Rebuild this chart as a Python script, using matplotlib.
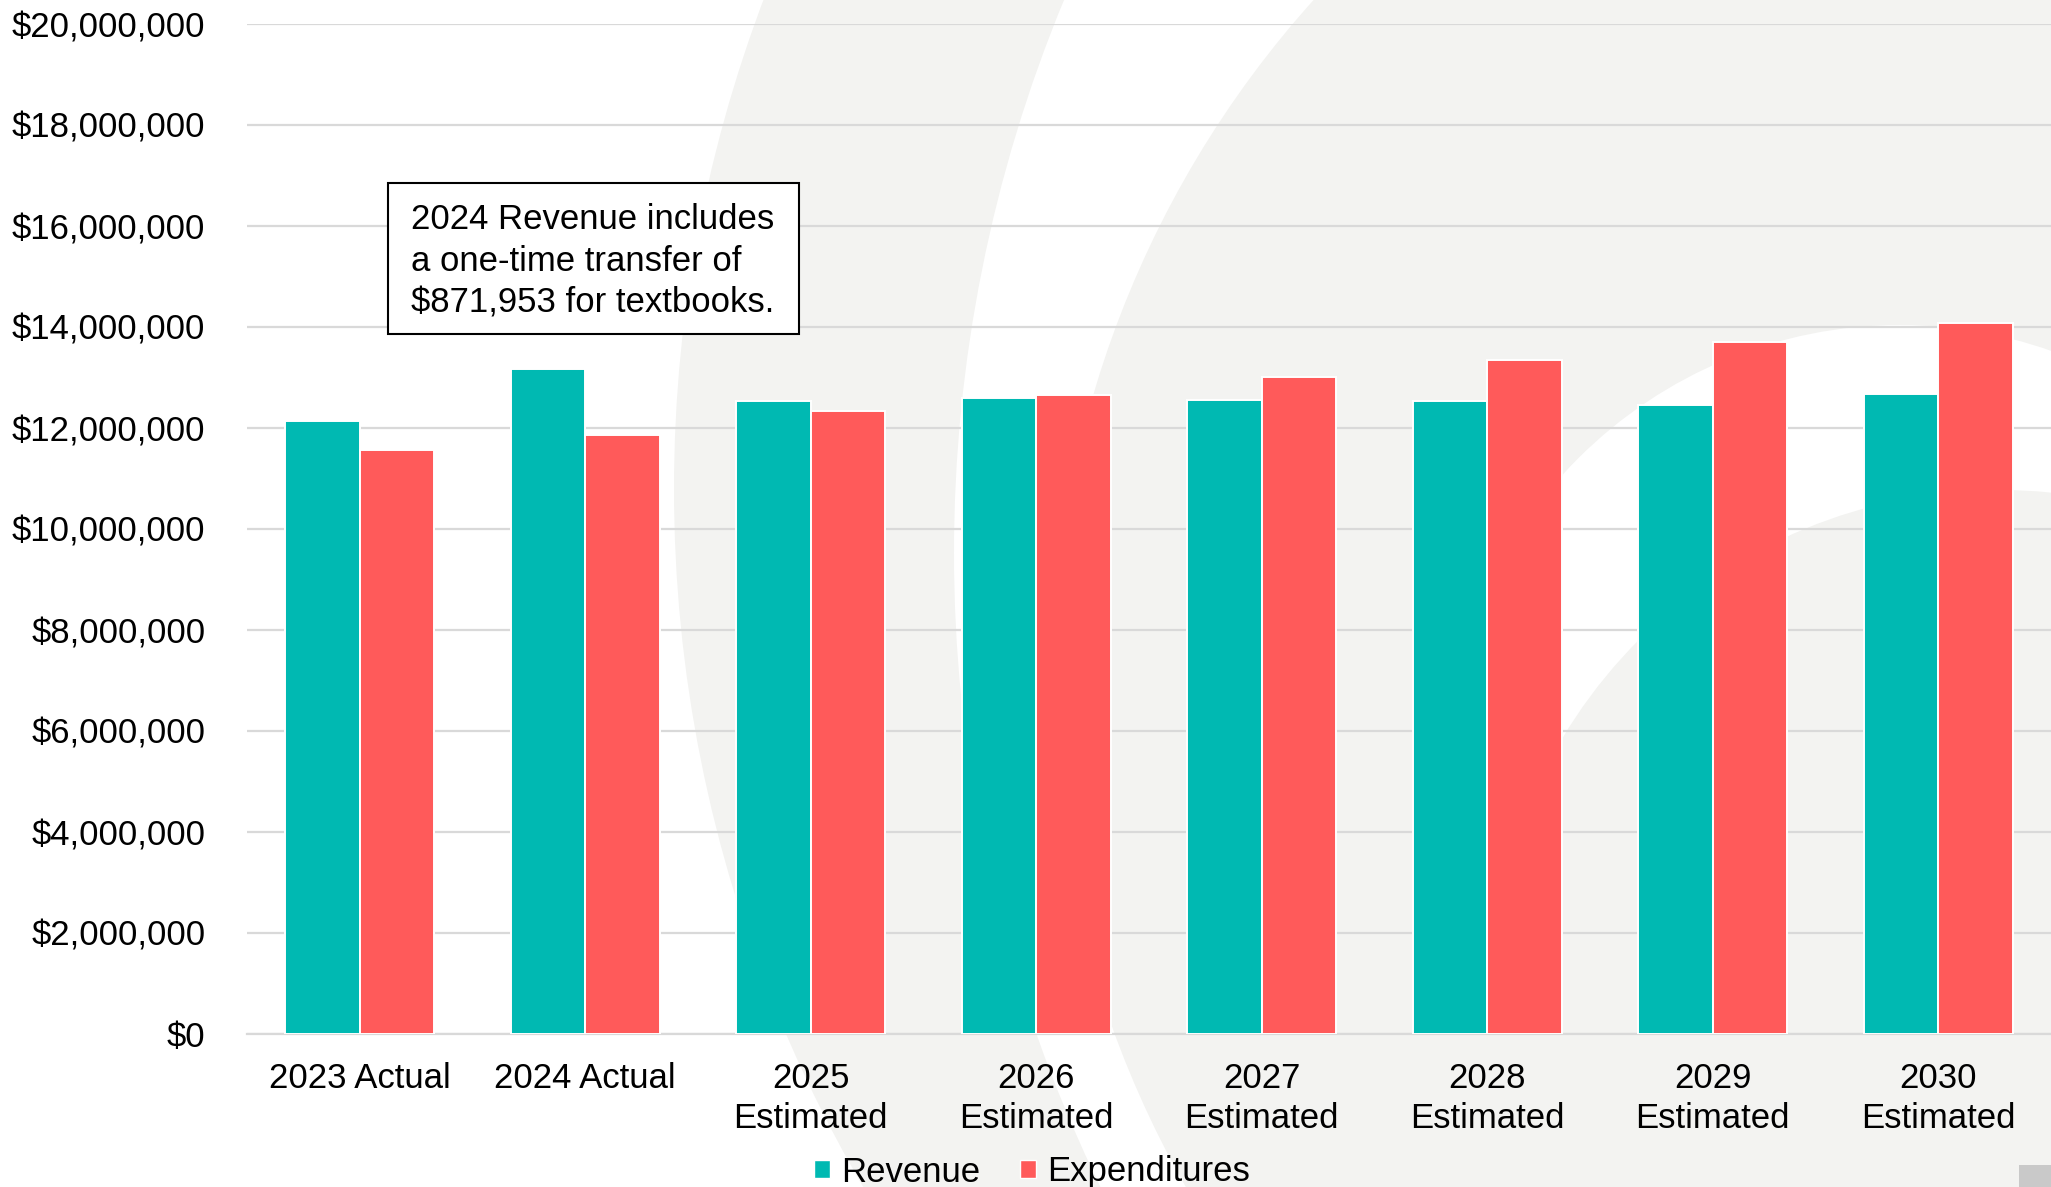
import matplotlib
matplotlib.use("Agg")
import matplotlib.pyplot as plt
from matplotlib.patches import Ellipse, Rectangle, Patch
from matplotlib.ticker import FuncFormatter, MultipleLocator

# ---- data ----
categories = ["2023 Actual", "2024 Actual", "2025\nEstimated", "2026\nEstimated",
              "2027\nEstimated", "2028\nEstimated", "2029\nEstimated", "2030\nEstimated"]
revenue = [12140000, 13160000, 12530000, 12590000, 12560000, 12530000, 12460000, 12680000]
expenditures = [11570000, 11860000, 12340000, 12650000, 13010000, 13340000, 13700000, 14080000]
series_names = ["Revenue", "Expenditures"]
note_text = "2024 Revenue includes\na one-time transfer of\n$871,953 for textbooks."

# ---- style ----
TEAL = "#00B9B2"
CORAL = "#FF5A5A"
WASH = "#F3F3F1"
GRID = "#D9D9D9"
W, H = 2051, 1187
FS = 25

plt.rcParams["font.family"] = ["Liberation Sans", "DejaVu Sans"]

fig = plt.figure(figsize=(W / 100, H / 100), dpi=100)
fig.patch.set_facecolor("white")


def fx(x):
    return x / W


def fy(y):
    return 1 - y / H


def disc(cx, cy, r, color, z):
    fig.add_artist(Ellipse((fx(cx), fy(cy)), 2 * r / W, 2 * r / H,
                           transform=fig.transFigure, facecolor=color,
                           edgecolor="none", zorder=z))


# faint watermark rings behind the chart
disc(2056, 489, 1382, WASH, -20)
disc(2399, 553, 1445, "white", -19)
disc(2072, 682, 1020, WASH, -18)
disc(1900, 780, 455, "white", -17)
disc(2000, 1000, 510, WASH, -16)

ax = fig.add_axes([fx(247), fy(1034), (W - 247) / W, (1034 - 24) / H])
ax.set_facecolor("none")

x = list(range(len(categories)))
bw = 0.33
ax.bar([i - bw / 2 for i in x], revenue, width=bw, color=TEAL,
       edgecolor="white", linewidth=1.4, zorder=3)
ax.bar([i + bw / 2 for i in x], expenditures, width=bw, color=CORAL,
       edgecolor="white", linewidth=1.4, zorder=3)

ax.set_xlim(-0.5, len(categories) - 0.5)
ax.set_ylim(0, 20000000)
ax.yaxis.set_major_locator(MultipleLocator(2000000))
ax.yaxis.set_major_formatter(FuncFormatter(lambda v, p: f"${v:,.0f}"))
ax.grid(axis="y", color=GRID, linewidth=1.6, zorder=0)
ax.set_axisbelow(True)

for s in ["left", "right", "top"]:
    ax.spines[s].set_visible(False)
ax.spines["bottom"].set_color(GRID)
ax.spines["bottom"].set_linewidth(1.6)

ax.set_xticks(x)
ax.set_xticklabels(categories, fontsize=FS, linespacing=1.28)
ax.tick_params(axis="x", length=0, pad=20)
ax.tick_params(axis="y", length=0, pad=30, labelsize=FS)

# note box
fig.add_artist(Rectangle((fx(388), fy(334)), (799 - 388) / W, (334 - 183) / H,
                         transform=fig.transFigure, facecolor="white",
                         edgecolor="black", linewidth=1.5, zorder=5))
fig.text(fx(411), fy(203), note_text, fontsize=FS, va="top", ha="left",
         linespacing=1.33, zorder=6)

# legend
handles = [Patch(facecolor=TEAL, edgecolor="white"),
           Patch(facecolor=CORAL, edgecolor="white")]
fig.legend(handles, series_names, loc="center", bbox_to_anchor=(fx(1032), fy(1172)),
           ncol=2, frameon=False, fontsize=FS, handlelength=0.45, handleheight=0.45,
           handletextpad=0.32, columnspacing=1.15, borderpad=0, borderaxespad=0)

# corner tab
fig.add_artist(Rectangle((fx(2019), 0), (W - 2019) / W, 22 / H,
                         transform=fig.transFigure, facecolor="#C9C9C9",
                         edgecolor="none", zorder=4))

fig.savefig("out.png", dpi=100)
